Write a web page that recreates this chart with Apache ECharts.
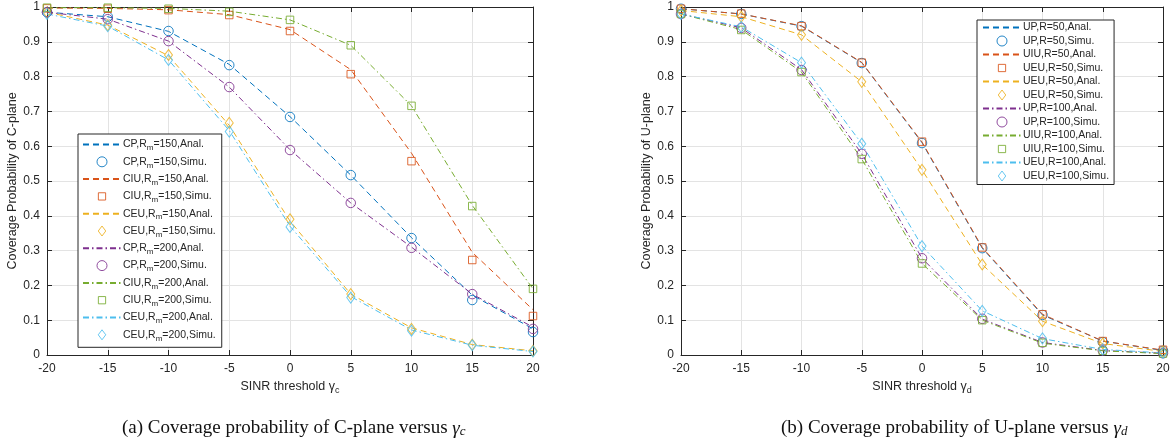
<!DOCTYPE html>
<html><head><meta charset="utf-8">
<script src="https://cdn.jsdelivr.net/npm/echarts@6/dist/echarts.min.js"></script>
<style>html,body{margin:0;padding:0;background:#fff}#c{width:1173px;height:446px}</style>
</head><body><div id="c"></div>
<script>
const xs = [-20,-15,-10,-5,0,5,10,15,20];
const xTicks = ['-20','-15','-10','-5','0','5','10','15','20'];
// Panel (a): C-plane
const cp150Anal  = [0.985,0.972,0.930,0.835,0.685,0.517,0.337,0.172,0.075];
const cp150Simu  = [0.985,0.972,0.931,0.833,0.684,0.517,0.336,0.158,0.066];
const ciu150Anal = [0.997,0.996,0.992,0.978,0.935,0.820,0.580,0.295,0.130];
const ciu150Simu = [0.996,0.995,0.991,0.977,0.931,0.807,0.557,0.273,0.112];
const ceu150Anal = [0.985,0.948,0.860,0.660,0.385,0.175,0.078,0.030,0.012];
const ceu150Simu = [0.985,0.948,0.862,0.667,0.390,0.175,0.075,0.030,0.012];
const cp200Anal  = [0.985,0.965,0.902,0.770,0.590,0.437,0.310,0.175,0.080];
const cp200Simu  = [0.985,0.965,0.902,0.770,0.589,0.437,0.308,0.175,0.075];
const ciu200Anal = [0.998,0.998,0.996,0.988,0.963,0.890,0.716,0.430,0.190];
const ciu200Simu = [0.998,0.998,0.995,0.986,0.963,0.890,0.716,0.428,0.190];
const ceu200Anal = [0.980,0.945,0.848,0.645,0.370,0.168,0.072,0.028,0.010];
const ceu200Simu = [0.980,0.945,0.848,0.642,0.368,0.165,0.070,0.028,0.010];
// Panel (b): U-plane
const up50Anal   = [0.995,0.980,0.945,0.840,0.610,0.307,0.115,0.040,0.013];
const up50Simu   = [0.995,0.980,0.945,0.839,0.609,0.307,0.115,0.037,0.012];
const uiu50Anal  = [0.995,0.980,0.946,0.841,0.612,0.309,0.117,0.040,0.014];
const uiu50Simu  = [0.995,0.981,0.945,0.840,0.613,0.309,0.117,0.040,0.015];
const ueu50Anal  = [0.990,0.972,0.920,0.785,0.532,0.260,0.097,0.033,0.010];
const ueu50Simu  = [0.990,0.972,0.920,0.785,0.532,0.260,0.097,0.033,0.010];
const up100Anal  = [0.980,0.940,0.820,0.578,0.278,0.103,0.036,0.013,0.005];
const up100Simu  = [0.980,0.940,0.819,0.578,0.278,0.104,0.036,0.013,0.005];
const uiu100Anal = [0.980,0.935,0.813,0.563,0.263,0.100,0.034,0.012,0.004];
const uiu100Simu = [0.980,0.934,0.813,0.563,0.263,0.100,0.035,0.012,0.004];
const ueu100Anal = [0.980,0.943,0.840,0.607,0.313,0.127,0.047,0.016,0.006];
const ueu100Simu = [0.980,0.943,0.840,0.607,0.313,0.127,0.048,0.016,0.006];

const namesA = ['CP,Rm=150,Anal.','CP,Rm=150,Simu.','CIU,Rm=150,Anal.','CIU,Rm=150,Simu.','CEU,Rm=150,Anal.','CEU,Rm=150,Simu.',
  'CP,Rm=200,Anal.','CP,Rm=200,Simu.','CIU,Rm=200,Anal.','CIU,Rm=200,Simu.','CEU,Rm=200,Anal.','CEU,Rm=200,Simu.'];
const namesB = ['UP,R=50,Anal.','UP,R=50,Simu.','UIU,R=50,Anal.','UEU,R=50,Simu.','UEU,R=50,Anal.','UEU,R=50,Simu.\u200b',
  'UP,R=100,Anal.','UP,R=100,Simu.','UIU,R=100,Anal.','UIU,R=100,Simu.','UEU,R=100,Anal.','UEU,R=100,Simu.'];
const dataA = [cp150Anal,cp150Simu,ciu150Anal,ciu150Simu,ceu150Anal,ceu150Simu,cp200Anal,cp200Simu,ciu200Anal,ciu200Simu,ceu200Anal,ceu200Simu];
const dataB = [up50Anal,up50Simu,uiu50Anal,uiu50Simu,ueu50Anal,ueu50Simu,up100Anal,up100Simu,uiu100Anal,uiu100Simu,ueu100Anal,ueu100Simu];

const colors = ['#0072BD','#D95319','#EDB120','#7E2F8E','#77AC30','#4DBEEE'];
const symbols = ['circle','rect','diamond'];
const legendIcons = ['circle','path://M0 0L0.01 0M1.5 1.5H9.5V9.5H1.5ZM10.99 11L11 11','path://M6 0L12 8L6 16L0 8Z'];
const DASH = [6,4];
const DASHDOT = [6,3,1.5,3];
const FONT = 'Liberation Sans';
const AX = '#262626';

function buildSeries(names, datas, gi) {
  const out = [];
  for (let i = 0; i < 12; i++) {
    const k = Math.floor(i/2) % 3 + (i >= 6 ? 3 : 0);
    const color = colors[k];
    const pts = xs.map((x, j) => [x, datas[i][j]]);
    if (i % 2 === 0) {
      out.push({type:'line', name:names[i], xAxisIndex:gi*2, yAxisIndex:gi*2, data:pts, symbol:'none',
        color: color, lineStyle:{color:color, width:1, type: i < 6 ? DASH : DASHDOT}, z:2, animation:false});
    } else {
      const sym = symbols[Math.floor(i/2)%3];
      out.push({type:'scatter', name:names[i], xAxisIndex:gi*2, yAxisIndex:gi*2, data:pts,
        symbol: sym, symbolSize: sym==='rect' ? 7.5 : (sym==='diamond' ? [8,11] : 9.5), symbolKeepAspect:true,
        color: color,
        itemStyle:{color:'rgba(255,255,255,0)', borderColor:color, borderWidth:1, opacity:0.85}, z:3, animation:false});
    }
  }
  return out;
}
function legendData(names) {
  return names.map((n, i) => i % 2 === 0
    ? {name:n, itemStyle:{opacity:0}}
    : {name:n, icon: legendIcons[Math.floor(i/2)%3], itemStyle:{borderWidth:1}});
}

const grids = [{left:47, top:7, width:486, height:348},{left:681, top:7, width:482, height:348}];
const xAxes = [], yAxes = [];
grids.forEach((g, gi) => {
  const subLetter = gi === 0 ? 'c' : 'd';
  xAxes.push({type:'value', gridIndex:gi, min:-20, max:20, interval:5, position:'bottom',
    axisLine:{onZero:false, lineStyle:{color:AX, width:1}}, axisTick:{inside:true, length:5, lineStyle:{color:AX}},
    axisLabel:{color:AX, fontFamily:FONT, fontSize:12, margin:8},
    splitLine:{show:true, lineStyle:{color:'#e3e3e3', width:1}},
    name:'SINR threshold γ{s|' + subLetter + '}', nameLocation:'middle', nameGap:19,
    nameTextStyle:{color:AX, fontFamily:FONT, fontSize:12.5, rich:{s:{fontSize:9, fontFamily:FONT, color:AX, padding:[8,0,0,0], verticalAlign:'bottom'}}}});
  xAxes.push({type:'value', gridIndex:gi, min:-20, max:20, interval:5, position:'top',
    axisLine:{onZero:false, lineStyle:{color:AX, width:1}}, axisTick:{inside:true, length:5, lineStyle:{color:AX}},
    axisLabel:{show:false}, splitLine:{show:false}});
  yAxes.push({type:'value', gridIndex:gi, min:0, max:1, interval:0.1, position:'left',
    axisLine:{show:true, onZero:false, lineStyle:{color:AX, width:1}}, axisTick:{show:true, inside:true, length:5, lineStyle:{color:AX}},
    axisLabel:{color:AX, fontFamily:FONT, fontSize:12, margin:7, formatter: v => String(Math.round(v*10)/10)},
    splitLine:{show:true, lineStyle:{color:'#e3e3e3', width:1}},
    name: gi === 0 ? 'Coverage Probability of C-plane' : 'Coverage Probability of U-plane',
    nameLocation:'middle', nameGap:28, nameTextStyle:{color:AX, fontFamily:FONT, fontSize:12.5}});
  yAxes.push({type:'value', gridIndex:gi, min:0, max:1, interval:0.1, position:'right',
    axisLine:{show:true, onZero:false, lineStyle:{color:AX, width:1}}, axisTick:{show:true, inside:true, length:5, lineStyle:{color:AX}},
    axisLabel:{show:false}, splitLine:{show:false}});
});

const legendCommon = {
  orient:'vertical', backgroundColor:'#fff', borderColor:AX, borderWidth:1, borderRadius:0,
  itemWidth:38, itemHeight:10, symbolKeepAspect:true, selectedMode:false
};

const capRich = {
  g:{fontFamily:'Liberation Serif', fontStyle:'italic', fontSize:19, fill:'#111'},
  s:{fontFamily:'Liberation Serif', fontStyle:'italic', fontSize:13, fill:'#111', padding:[7,0,0,0], verticalAlign:'bottom'}
};

const option = {
  animation:false,
  grid: grids,
  xAxis: xAxes,
  yAxis: yAxes,
  legend: [
    Object.assign({}, legendCommon, {left:78, top:134, padding:[5,6,5,4], itemGap:4.3, data:legendData(namesA),
      formatter: n => n.replace('Rm', 'R{s|m}'),
      textStyle:{color:AX, fontFamily:FONT, fontSize:10.5, padding:[0,0,0,-3],
        rich:{s:{fontSize:8, fontFamily:FONT, color:AX, padding:[7,0,0,0], verticalAlign:'bottom'}}}}),
    Object.assign({}, legendCommon, {left:977, top:20, padding:[2,5,3,5], itemGap:2.5, data:legendData(namesB),
      formatter: n => n.replace('\u200b',''),
      textStyle:{color:AX, fontFamily:FONT, fontSize:10.5, padding:[0,0,0,-3]}})
  ],
  graphic: [
    {type:'text', top:419, left:122,
      style:{text:'(a) Coverage probability of C-plane versus {g|γ}{s|c}',
        font:'19px "Liberation Serif"', fill:'#111', rich:capRich}},
    {type:'text', top:419, left:781,
      style:{text:'(b) Coverage probability of U-plane versus {g|γ}{s|d}',
        font:'19px "Liberation Serif"', fill:'#111', rich:capRich}}
  ],
  series: buildSeries(namesA, dataA, 0).concat(buildSeries(namesB, dataB, 1))
};
const chart = echarts.init(document.getElementById('c'), null, {renderer:'canvas'});
chart.setOption(option);
</script>
</body></html>
